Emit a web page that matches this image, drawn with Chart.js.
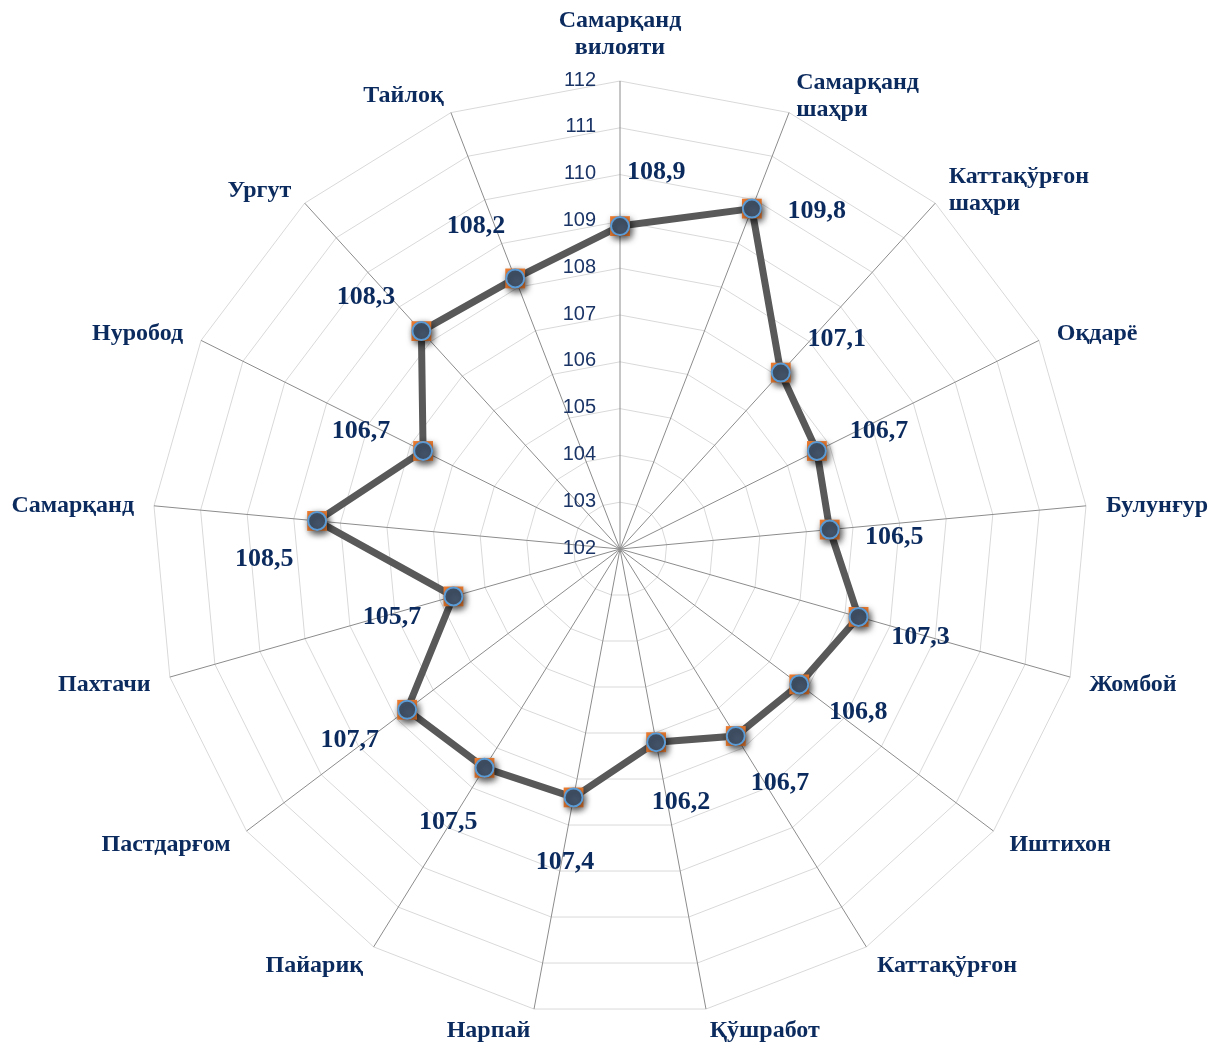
<!DOCTYPE html>
<html><head><meta charset="utf-8">
<script src="https://cdn.jsdelivr.net/npm/chart.js@4/dist/chart.umd.min.js"></script>
<style>html,body{margin:0;padding:0;background:#fff}#wrap{width:1218px;height:1047px;position:relative}</style>
</head><body><div id="wrap"><canvas id="c"></canvas></div>
<script>
const categories = [['Самарқанд','вилояти'],['Самарқанд','шаҳри'],['Каттақўрғон','шаҳри'],['Оқдарё'],['Булунғур'],['Жомбой'],['Иштихон'],['Каттақўрғон'],['Қўшработ'],['Нарпай'],['Пайариқ'],['Пастдарғом'],['Пахтачи'],['Самарқанд'],['Нуробод'],['Ургут'],['Тайлоқ']];
const values = [108.9,109.8,107.1,106.7,106.5,107.3,106.8,106.7,106.2,107.4,107.5,107.7,105.7,108.5,106.7,108.3,108.2];
const tickValues = [102,103,104,105,106,107,108,109,110,111,112];

// value-label placement: turn (degrees) away from the outward radial direction
const labelTurn = [34,71,17,9,12,2,-12,-11,-12,-3,2,9,-3,-41,-9,-16,-16];

const textColor = '#0b2a5e';
const serif = '"Liberation Serif","Times New Roman",serif';
const sans = '"Liberation Sans",Arial,sans-serif';

const overlay = {
  id: 'overlay',
  beforeDatasetsDraw(chart) {
    const ctx = chart.ctx, s = chart.scales.r;
    ctx.save();
    ctx.font = '20px ' + sans;
    ctx.fillStyle = '#1a3466';
    ctx.textAlign = 'right';
    ctx.textBaseline = 'middle';
    tickValues.forEach(v => {
      const d = s.getDistanceFromCenterForValue(v);
      ctx.fillText(String(v), s.xCenter - 24, s.yCenter - d - 1);
    });
    ctx.restore();
  },
  beforeDatasetDraw(chart, args) {
    if (args.index < 2) {
      const ctx = chart.ctx;
      ctx.save();
      ctx.shadowColor = 'rgba(0,0,0,0.45)';
      ctx.shadowBlur = 7;
      ctx.shadowOffsetX = 2;
      ctx.shadowOffsetY = 3;
    }
  },
  afterDatasetDraw(chart, args) {
    if (args.index < 2) chart.ctx.restore();
  },
  afterDatasetsDraw(chart) {
    const ctx = chart.ctx, s = chart.scales.r;
    ctx.save();
    ctx.fillStyle = textColor;
    ctx.font = 'bold 24px ' + serif;
    ctx.textBaseline = 'middle';
    const lh = 27;
    categories.forEach((lines, i) => {
      const p = s.getPointPosition(i, s.drawingArea + 20);
      const a = s.getIndexAngle(i);
      const sn = Math.sin(a), cs = Math.cos(a);
      const h = lines.length * lh;
      let cy;
      if (Math.abs(sn) < 0.02) {
        ctx.textAlign = 'center';
        cy = cs > 0 ? p.y - h / 2 : p.y + h / 2;
      } else {
        ctx.textAlign = sn > 0 ? 'left' : 'right';
        cy = p.y + 2;
      }
      lines.forEach((t, k) => {
        ctx.fillText(t, p.x, cy - h / 2 + lh / 2 + k * lh);
      });
    });
    ctx.font = 'bold 26px ' + serif;
    ctx.textAlign = 'center';
    const meta = chart.getDatasetMeta(0);
    values.forEach((v, i) => {
      const el = meta.data[i];
      const a = s.getIndexAngle(i) + labelTurn[i] * Math.PI / 180;
      const d = 65;
      ctx.fillText(v.toFixed(1).replace('.', ','), el.x + d * Math.sin(a), el.y - d * Math.cos(a));
    });
    ctx.restore();
  }
};

new Chart(document.getElementById('c'), {
  type: 'radar',
  data: {
    labels: categories,
    datasets: [
      { data: values, fill: false, showLine: false, pointStyle: 'circle', pointRadius: 9, pointBackgroundColor: '#44546A', pointBorderColor: '#5B9BD5', pointBorderWidth: 2, pointHoverRadius: 9 },
      { data: values, fill: false, showLine: false, pointStyle: 'rect', pointRadius: 14, pointBackgroundColor: '#ED7D31', pointBorderWidth: 0, pointHoverRadius: 14 },
      { data: values, fill: false, borderColor: '#595959', borderWidth: 7, pointRadius: 0, pointHoverRadius: 0, tension: 0 }
    ]
  },
  options: {
    responsive: true,
    maintainAspectRatio: false,
    animation: false,
    events: [],
    layout: { padding: { top: 81, bottom: 30, left: 152, right: 130 } },
    plugins: { legend: { display: false }, tooltip: { enabled: false } },
    scales: {
      r: {
        min: 102, max: 112,
        ticks: { display: false, stepSize: 1 },
        pointLabels: { display: false },
        grid: { color: '#D9D9D9', lineWidth: 1 },
        angleLines: { color: '#8C8C8C', lineWidth: 1 }
      }
    }
  },
  plugins: [overlay]
});
</script></body></html>
